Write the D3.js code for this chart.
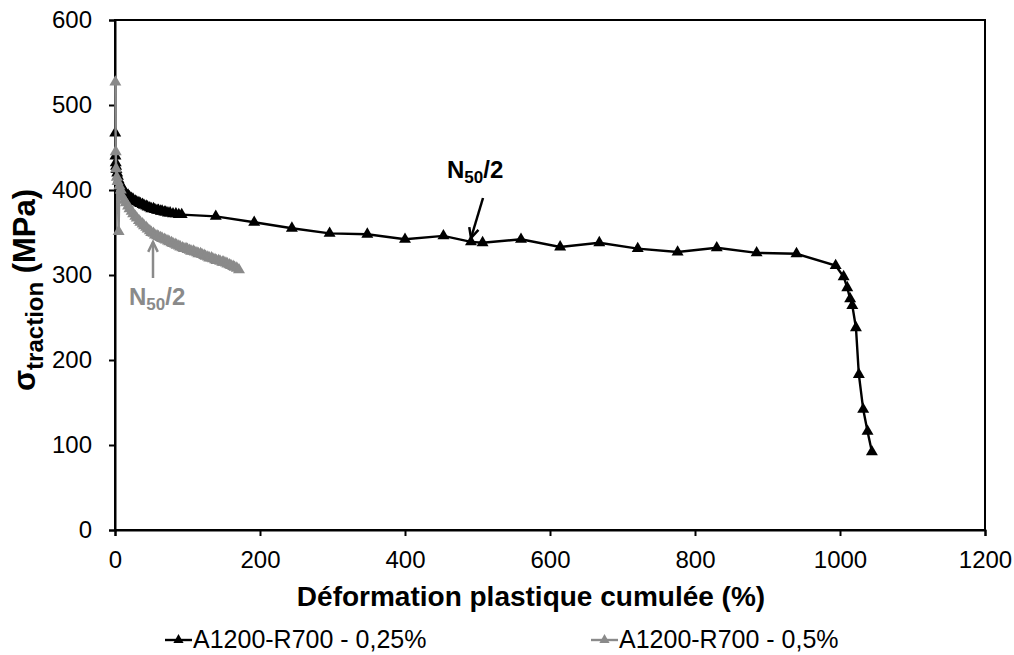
<!DOCTYPE html>
<html><head><meta charset="utf-8">
<script src="https://cdn.jsdelivr.net/npm/d3@7"></script>
<style>body{margin:0;background:#fff}svg{display:block;font-family:"Liberation Sans",Arial,sans-serif}</style>
</head><body><svg id="c" width="1014" height="655"></svg>
<script>
const seriesNames = ["A1200-R700 - 0,25%", "A1200-R700 - 0,5%"];
const blackX = [0.3,0.6,1,1.5,2,3,4,5,7,9,11,13,15,18,20,23,25,28,30,33,35,38,40,43,45,48,50,53,55,58,60,63,65,68,70,73,76,80,84,88,92,
  139,192,244,296,348,400,453,491,507,560,614,668,721,776,830,885,940,994,1005,1010,1014,1017,1022,1026,1032,1038,1044];
const blackY = [467,440,432,428,424,420,416,412,408,404,401,398,396,394,392,390,389,387,386,385,384,383,382,381,380,379,378,378,377,376,376,375,375,374,374,373,373,372,372,371,371,
  369,362,355,349,348,342,346,339,338,342,333,338,331,327,332,326,325,311,298,285,272,264,238,183,142,116,92];
const grayX = [0.5,1,1.5,2.5,3.5,5,6,8,10,13,15,18,20,23,25,28,30,33,35,38,40,43,45,48,50,53,55,58,60,63,65,68,70,73,75,78,80,83,85,88,90,93,95,98,100,103,105,108,110,113,115,118,120,123,125,128,130,133,135,138,140,143,145,148,150,153,155,158,160,163,165,168,171];
const grayY = [527,445,425,415,410,351,405,400,392,388,385,381,378,375,372,369,367,364,362,360,358,356,354,352,350,349,347,346,345,344,343,342,341,340,339,338,337,336,335,334,333,332,331,331,330,329,328,328,327,326,325,325,324,323,322,321,320,320,319,318,317,317,316,315,315,314,313,312,311,310,309,308,306];
const xTicks = [0,200,400,600,800,1000,1200];
const yTicks = [0,100,200,300,400,500,600];
const colors = ["#000000", "#8a8a8a"];

const svg = d3.select("#c");
const L = 115, R = 985, T = 20, B = 530;
const x = d3.scaleLinear().domain([0,1200]).range([L,R]);
const y = d3.scaleLinear().domain([0,600]).range([B,T]);

svg.append("rect").attr("x",L).attr("y",T).attr("width",R-L).attr("height",B-T)
  .attr("fill","none").attr("stroke","#000").attr("stroke-width",2);

const xa = svg.append("g").attr("transform",`translate(0,${B})`)
  .call(d3.axisBottom(x).tickValues(xTicks).tickFormat(d3.format("d")).tickSize(6).tickPadding(15));
const ya = svg.append("g").attr("transform",`translate(${L},0)`)
  .call(d3.axisLeft(y).tickValues(yTicks).tickFormat(d3.format("d")).tickSize(6).tickPadding(17));
[xa,ya].forEach(a=>{
  a.select(".domain").attr("stroke","#000").attr("stroke-width",2);
  a.selectAll(".tick line").attr("stroke","#000").attr("stroke-width",2);
  a.selectAll(".tick text").attr("font-size",24).attr("fill","#000").attr("font-family","Liberation Sans, Arial, sans-serif");
});

const tri = d3.symbol().type(d3.symbolTriangle).size(62);
function drawSeries(xs, ys, col){
  const pts = xs.map((v,i)=>[v,ys[i]]);
  svg.append("path").datum(pts).attr("fill","none").attr("stroke",col).attr("stroke-width",2.4)
    .attr("d", d3.line().x(d=>x(d[0])).y(d=>y(d[1])));
  svg.append("g").selectAll("path").data(pts).join("path")
    .attr("d",tri).attr("fill",col)
    .attr("transform",d=>`translate(${x(d[0])},${y(d[1])})`);
}
drawSeries(blackX, blackY, colors[0]);
drawSeries(grayX, grayY, colors[1]);

function arrow(x1,y1,x2,y2,col){
  svg.append("line").attr("x1",x1).attr("y1",y1).attr("x2",x2).attr("y2",y2)
    .attr("stroke",col).attr("stroke-width",2.5);
  const a = Math.atan2(y2-y1,x2-x1), h=11, w=0.45;
  const p1=[x2-h*Math.cos(a-w), y2-h*Math.sin(a-w)], p2=[x2-h*Math.cos(a+w), y2-h*Math.sin(a+w)];
  svg.append("path").attr("d",`M${p1}L${x2},${y2}L${p2}`).attr("fill","none").attr("stroke",col).attr("stroke-width",2.5);
}
arrow(483,198,471,238,colors[0]);
arrow(153,278,153,242,colors[1]);
function nlabel(xp,yp,col){
  const t = svg.append("text").attr("x",xp).attr("y",yp).attr("font-size",24).attr("font-weight","bold").attr("fill",col);
  t.append("tspan").text("N");
  t.append("tspan").attr("font-size",17).attr("dy",5).text("50");
  t.append("tspan").attr("dy",-5).text("/2");
}
nlabel(447,178,colors[0]);
nlabel(129,305,colors[1]);

svg.append("text").attr("x",531).attr("y",606).attr("text-anchor","middle")
  .attr("font-size",28).attr("font-weight","bold").text("Déformation plastique cumulée (%)");
const yt = svg.append("text").attr("transform","translate(35,290) rotate(-90)").attr("text-anchor","middle")
  .attr("font-size",31).attr("font-weight","bold");
yt.append("tspan").text("σ");
yt.append("tspan").attr("font-size",24).attr("dy",8).text("traction");
yt.append("tspan").attr("dy",-8).text(" (MPa)");

const legX = [165, 591];
seriesNames.forEach((n,i)=>{
  const g = svg.append("g").attr("transform",`translate(${legX[i]},640)`);
  g.append("line").attr("x1",0).attr("x2",27).attr("stroke",colors[i]).attr("stroke-width",2.4);
  g.append("path").attr("d",d3.symbol().type(d3.symbolTriangle).size(45)).attr("fill",colors[i]).attr("transform","translate(13.5,0)");
  g.append("text").attr("x",28).attr("y",8).attr("font-size",25).attr("fill","#000").text(n);
});
</script></body></html>
